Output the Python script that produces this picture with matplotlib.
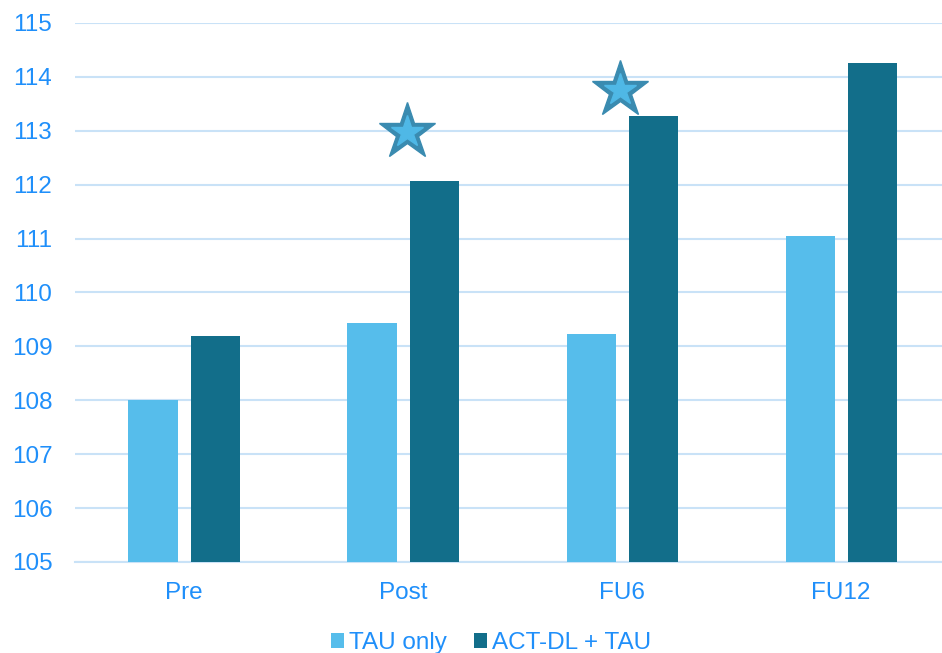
import matplotlib.pyplot as plt
import numpy as np

plt.rcParams['font.family'] = ['Liberation Sans', 'DejaVu Sans']

# Data
categories = ['Pre', 'Post', 'FU6', 'FU12']
tau_only = [108.0, 109.43, 109.23, 111.05]
act_dl_tau = [109.2, 112.07, 113.27, 114.26]
star_x = [1.02, 1.99]
star_values = [112.98, 113.76]
y_ticks = list(range(105, 116))

TAU_COLOR = '#56BDEB'
ACT_COLOR = '#126E8A'
TEXT_COLOR = '#1F8FFA'
GRID_COLOR = '#C9E2F7'

fig = plt.figure(figsize=(9.42, 6.53), dpi=100)
ax = fig.add_axes([0.0791, 0.1394, 0.930, 0.8254])

x = np.arange(len(categories))
width = 0.224
offset = 0.1416
ax.bar(x - offset, np.array(tau_only) - 105, width, bottom=105, color=TAU_COLOR,
       label='TAU only', zorder=3)
ax.bar(x + offset, np.array(act_dl_tau) - 105, width, bottom=105, color=ACT_COLOR,
       label='ACT-DL + TAU', zorder=3)

# significance stars
ax.plot(star_x, star_values, linestyle='none', marker='*', markersize=43,
        color='#3A8BB0', zorder=4, clip_on=False)
ax.plot(star_x, star_values, linestyle='none', marker='*', markersize=24,
        color='#4FB8E6', zorder=5, clip_on=False)

ax.set_xlim(-0.5, 3.5)
ax.set_ylim(105, 115)
ax.set_yticks(y_ticks)
ax.set_xticks(x)
ax.set_xticklabels(categories)
ax.yaxis.grid(True, color=GRID_COLOR, linewidth=1.5, zorder=0)
ax.set_axisbelow(True)
for side in ['left', 'right', 'top']:
    ax.spines[side].set_visible(False)
ax.spines['bottom'].set_color(GRID_COLOR)
ax.spines['bottom'].set_linewidth(1.5)
ax.tick_params(axis='both', length=0, labelsize=17.5, colors=TEXT_COLOR)
ax.tick_params(axis='y', pad=16)
ax.tick_params(axis='x', pad=14.5)

leg = fig.legend(loc='center', bbox_to_anchor=(0.521, 0.015), ncol=2, frameon=False,
                 fontsize=17.5, handlelength=0.55, handleheight=0.55, handletextpad=0.2,
                 columnspacing=1.1, borderpad=0, borderaxespad=0)
for t in leg.get_texts():
    t.set_color(TEXT_COLOR)

fig.savefig('out.png', dpi=100)
